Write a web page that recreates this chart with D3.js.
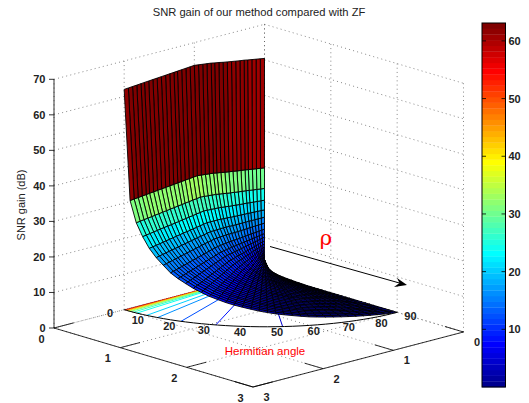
<!DOCTYPE html>
<html>
<head>
<meta charset="utf-8">
<script src="https://cdn.jsdelivr.net/npm/d3@7"></script>
<style>
  html, body { margin: 0; padding: 0; background: #fff; }
  text { font-family: "Liberation Sans", Arial, sans-serif; }
  .tick-label { font-size: 11px; font-weight: bold; fill: #222; }
</style>
</head>
<body>
<div id="chart"></div>
<script>
//Values
var titleText = "SNR gain of our method compared with ZF";
var zTicks = [0, 10, 20, 30, 40, 50, 60, 70];
var floorTicks = [0, 1, 2, 3];
var angleTicks = [0, 10, 20, 30, 40, 50, 60, 70, 80, 90];
var colorTicks = [10, 20, 30, 40, 50, 60];

//Mesh: hermitian angle rows (degrees) and rho columns
var thetaGrid = [0, 2.5, 5, 7.5, 10, 12.5, 15, 17.5, 20, 22.5, 25, 27.5, 30, 32.5, 35, 37.5, 40, 42.5, 45,
  47.5, 50, 52.5, 55, 57.5, 60, 62.5, 65, 67.5, 70, 72.5, 75, 77.5, 80, 82.5, 85, 87.5, 90];
var rhoGrid = [0, 0.06, 0.12, 0.18, 0.24, 0.29, 0.35, 0.41, 0.47, 0.53, 0.59, 0.65, 0.71, 0.76, 0.82, 0.88, 0.94, 1,
  1.06, 1.12, 1.18, 1.24, 1.29, 1.35, 1.41, 1.47, 1.53, 1.59, 1.65, 1.71, 1.76, 1.82, 1.88, 1.94, 2];

//SNR gain (dB) at rho = 2 for each angle row
var gainAtRim = [62, 31.2, 25.4, 21.9, 19, 16.8, 15, 13.2, 11.9, 10.8, 9.7, 8.8, 7.9, 7.2, 6.5, 5.9, 5.4, 4.9, 4.4,
  4, 3.6, 3.3, 3, 2.7, 2.4, 2.2, 2, 1.8, 1.6, 1.4, 1.2, 1, 0.8, 0.6, 0.4, 0.2, 0];
//Change of the gain along rho, and lowest gain reached at each rho
var gainShift = [-1.6, -1.4, -1.2, -1, -0.8, -0.6, -0.45, -0.25, -0.05, 0.15, 0.35, 0.6, 0.8, 1, 1.15, 1.3, 1.45, 1.6,
  1.5, 1.41, 1.31, 1.22, 1.13, 1.04, 0.94, 0.85, 0.75, 0.66, 0.56, 0.47, 0.38, 0.28, 0.19, 0.09, 0];
var gainFloor = [3.6, 1.7, 1, 0.7, 0.5, 0.4, 0.3, 0.25, 0.15, 0.1, 0.05, 0, 0, 0, 0, 0, 0, 0,
  0, 0, 0, 0, 0, 0, 0, 0, 0, 0, 0, 0, 0, 0, 0, 0, 0];

//Floor contours
var contourAngles = [0.3, 0.8, 1.4, 2, 2.7, 3.8, 5.2, 9, 13, 21, 32, 52];
var contourLevels = [60, 50, 43, 36, 31, 27, 24, 20, 16, 12, 8, 4];

var svgWidth = 529;
var svgHeight = 403;
var zMax = 63.1;

var svg = d3.select("#chart").append("svg")
  .attr("width", svgWidth)
  .attr("height", svgHeight)
  .style("display", "block");

//Projection of the box: one scale per axis and screen direction
var originX = 264.5;
var originY = 273;
var xToPxX = d3.scaleLinear().domain([0, 3]).range([0, -210.5]);
var xToPxY = d3.scaleLinear().domain([0, 3]).range([0, 55]);
var yToPxX = d3.scaleLinear().domain([0, 3]).range([0, 199]);
var yToPxY = d3.scaleLinear().domain([0, 3]).range([0, 59]);
var zToPx = d3.scaleLinear().domain([0, 70]).range([0, -248.7]);

function project(x, y, z) {
  return [originX + xToPxX(x) + yToPxX(y), originY + xToPxY(x) + yToPxY(y) + zToPx(z)];
}
function polar(rho, theta, z) {
  var a = theta * Math.PI / 180;
  return project(rho * Math.cos(a), rho * Math.sin(a), z);
}
//Distance towards the viewer, for painting far faces first
function depth(rho, theta, z) {
  var a = theta * Math.PI / 180;
  return rho * Math.cos(a) / 3 * 0.333 + rho * Math.sin(a) / 3 * 0.357 + z / 70 * 0.155;
}

//Jet colormap with 64 steps
function clamp01(v) { return Math.max(0, Math.min(1, v)); }
var jetColors = d3.range(1, 65).map(function (i) {
  var v = i / 64;
  return d3.rgb(
    255 * clamp01(Math.min(4 * v - 1.5, -4 * v + 4.5)),
    255 * clamp01(Math.min(4 * v - 0.5, -4 * v + 3.5)),
    255 * clamp01(Math.min(4 * v + 0.5, -4 * v + 2.5))
  ).formatHex();
});
var colorScale = d3.scaleQuantize().domain([0, zMax]).range(jetColors);

var line = d3.line();

//Dotted grid on walls and floor
var gridGroup = svg.append("g")
  .attr("fill", "none")
  .attr("stroke", "#555")
  .attr("stroke-width", 0.7)
  .attr("stroke-dasharray", "1 3.2");
function gridLine(a, b) {
  gridGroup.append("path").attr("d", line([a, b]));
}
zTicks.forEach(function (z) {
  gridLine(project(3, 0, z), project(0, 0, z));
  gridLine(project(0, 0, z), project(0, 3, z));
});
floorTicks.forEach(function (t) {
  gridLine(project(t, 0, 0), project(t, 0, 70));
  gridLine(project(0, t, 0), project(0, t, 70));
  gridLine(project(t, 0, 0), project(t, 3, 0));
  gridLine(project(0, t, 0), project(3, t, 0));
});

//Box edges and ticks
var axisGroup = svg.append("g")
  .attr("fill", "none")
  .attr("stroke", "#000")
  .attr("stroke-width", 0.8);
axisGroup.append("path").attr("d", line([project(3, 0, 70), project(3, 0, 0), project(3, 3, 0), project(0, 3, 0)]));
zTicks.forEach(function (z) {
  var p = project(3, 0, z);
  axisGroup.append("path").attr("d", line([p, [p[0] - 5, p[1]]]));
});
floorTicks.forEach(function (t) {
  axisGroup.append("path").attr("d", line([project(3, t, 0), project(2.72, t, 0)]));
  axisGroup.append("path").attr("d", line([project(t, 3, 0), project(t, 2.72, 0)]));
});

//Floor contours, under the surface
svg.append("g").selectAll("path")
  .data(contourAngles)
  .enter()
  .append("path")
  .attr("d", function (d) { return line([polar(0, d, 0), polar(2, d, 0)]); })
  .attr("fill", "none")
  .attr("stroke-width", 1)
  .attr("stroke", function (d, i) { return colorScale(contourLevels[i]); });

//Rim of the angle scale
svg.append("path")
  .attr("d", d3.line().curve(d3.curveCatmullRom)(thetaGrid.map(function (t) { return polar(2, t, 0); })))
  .attr("fill", "none")
  .attr("stroke", "#000")
  .attr("stroke-width", 1);

//Surface mesh
function gain(j, i) {
  var g = gainAtRim[j] + gainShift[i] * Math.min(1, gainAtRim[j] / 25);
  return Math.max(gainFloor[i], g);
}
var faces = [];
d3.range(thetaGrid.length - 1).forEach(function (j) {
  d3.range(rhoGrid.length - 1).forEach(function (i) {
    var rho = (rhoGrid[i] + rhoGrid[i + 1]) / 2;
    var theta = (thetaGrid[j] + thetaGrid[j + 1]) / 2;
    var z = (gain(j, i) + gain(j, i + 1) + gain(j + 1, i) + gain(j + 1, i + 1)) / 4;
    faces.push({
      corners: [
        polar(rhoGrid[i], thetaGrid[j], gain(j, i)),
        polar(rhoGrid[i + 1], thetaGrid[j], gain(j, i + 1)),
        polar(rhoGrid[i + 1], thetaGrid[j + 1], gain(j + 1, i + 1)),
        polar(rhoGrid[i], thetaGrid[j + 1], gain(j + 1, i))
      ],
      color: colorScale(gain(j, i)),
      depth: depth(rho, theta, z)
    });
  });
});
faces.sort(function (a, b) { return a.depth - b.depth; });

svg.append("g").selectAll("path")
  .data(faces)
  .enter()
  .append("path")
  .attr("d", function (d) { return line(d.corners) + "Z"; })
  .attr("fill", function (d) { return d.color; })
  .attr("stroke", "#000")
  .attr("stroke-width", 0.9)
  .attr("stroke-linejoin", "round");

//Tick labels
var labelGroup = svg.append("g").attr("class", "tick-label");
function label(pos, txt, anchor) {
  labelGroup.append("text")
    .attr("class", "tick-label")
    .attr("x", pos[0])
    .attr("y", pos[1])
    .attr("dy", "0.36em")
    .attr("text-anchor", anchor || "middle")
    .text(txt);
}
zTicks.forEach(function (z) {
  var p = project(3, 0, z);
  label([p[0] - 8.5, p[1]], z, "end");
});
floorTicks.forEach(function (t) {
  var a = project(3, t, 0);
  label([a[0] - 12.4, a[1] + 10.6], t);
  var b = project(t, 3, 0);
  label([b[0] + 13.5, b[1] + 10], t);
});
angleTicks.forEach(function (t) {
  label(polar(2.2, t, 0), t);
});

//Title and axis names
svg.append("text")
  .attr("x", 259)
  .attr("y", 12)
  .attr("dy", "0.36em")
  .attr("text-anchor", "middle")
  .attr("font-size", 11.2)
  .attr("fill", "#222")
  .text(titleText);
svg.append("text")
  .attr("transform", "translate(21, 205) rotate(-90)")
  .attr("dy", "0.36em")
  .attr("text-anchor", "middle")
  .attr("font-size", 11)
  .attr("fill", "#222")
  .text("SNR gain (dB)");
svg.append("text")
  .attr("x", 265)
  .attr("y", 351)
  .attr("dy", "0.36em")
  .attr("text-anchor", "middle")
  .attr("font-size", 11.5)
  .attr("fill", "#f00")
  .text("Hermitian angle");

//Rho arrow
svg.append("text")
  .attr("x", 326)
  .attr("y", 245)
  .attr("text-anchor", "middle")
  .style("font-family", "'DejaVu Serif', serif")
  .attr("font-size", 21)
  .attr("fill", "#f00")
  .text("ρ");
svg.append("path")
  .attr("d", line([[270, 246.5], [403, 284]]))
  .attr("fill", "none")
  .attr("stroke", "#000")
  .attr("stroke-width", 1);
svg.append("path")
  .attr("d", line([[407, 285], [394, 287], [399.5, 283], [397, 278]]) + "Z")
  .attr("fill", "#000");

//Colorbar
var barLeft = 482;
var barRight = 505.5;
var barTop = 23;
var barBottom = 387;
var barY = d3.scaleLinear().domain([0, zMax]).range([barBottom, barTop]);
var stepHeight = (barBottom - barTop) / jetColors.length;
svg.append("g").selectAll("rect")
  .data(jetColors)
  .enter()
  .append("rect")
  .attr("x", barLeft)
  .attr("width", barRight - barLeft)
  .attr("y", function (d, i) { return barY((i + 1) * zMax / jetColors.length); })
  .attr("height", stepHeight + 0.3)
  .attr("fill", function (d) { return d; });
svg.append("rect")
  .attr("x", barLeft)
  .attr("y", barTop)
  .attr("width", barRight - barLeft)
  .attr("height", barBottom - barTop)
  .attr("fill", "none")
  .attr("stroke", "#000")
  .attr("stroke-width", 1);
colorTicks.forEach(function (c) {
  var y = barY(c);
  svg.append("path")
    .attr("d", line([[barLeft, y], [barLeft + 4, y]]) + line([[barRight - 4, y], [barRight, y]]))
    .attr("stroke", "#000")
    .attr("stroke-width", 0.8);
  label([barRight + 3, y], c, "start");
});
</script>
</body>
</html>
